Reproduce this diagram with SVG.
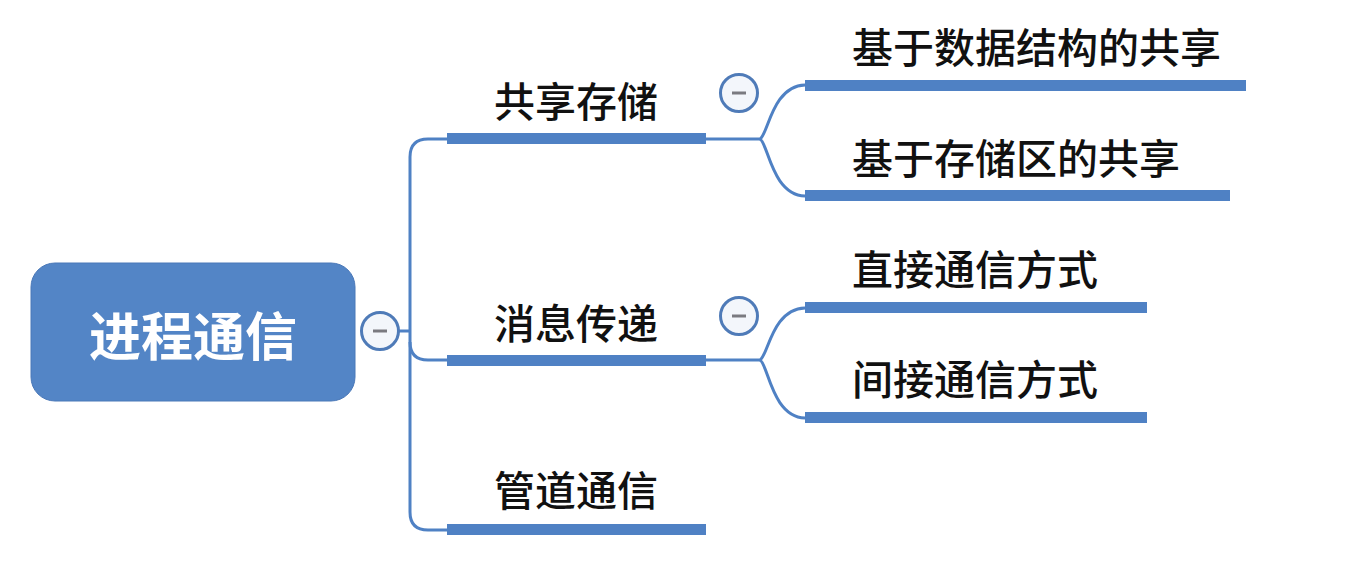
<svg xmlns="http://www.w3.org/2000/svg" width="1351" height="569" viewBox="0 0 1351 569">
<style>
.bar{fill:#4f81c4}
.ln{fill:none;stroke:#4f81c4;stroke-width:3}
.t{font-family:"Noto Sans CJK SC","Noto Sans",sans-serif;font-size:41px;font-weight:500;fill:#111;dominant-baseline:central}
.root{font-family:"Noto Sans CJK SC","Noto Sans",sans-serif;font-size:52px;font-weight:bold;fill:#fff;dominant-baseline:central;text-anchor:middle}
.cc{fill:#f3f6fb;stroke:#4f7bb8;stroke-width:3}
.mn{stroke:#7a7a80;stroke-width:3}
</style>
<rect width="1351" height="569" fill="#fff"/>
<g id="connectors">
<path class="ln" d="M398,331 H410"/>
<path class="ln" d="M447,139 H428 Q410,139 410,157 V512 Q410,530 428,530 H447"/>
<path class="ln" d="M410,342 Q410,360 428,360 H447"/>
<path class="ln" d="M706,139 H760 C768,135 772,86 805,85"/>
<path class="ln" d="M760,139 C768,143 772,195 805,196"/>
<path class="ln" d="M706,360 H760 C768,356 772,309 805,308"/>
<path class="ln" d="M760,360 C768,364 772,417 805,418"/>
</g>
<g id="root">
<rect x="31" y="263" width="324" height="138" rx="24" fill="#5385c6" stroke="#4a78b8" stroke-width="1"/>
<text class="root" x="193" y="333">进程通信</text>
</g>
<g id="toggle-root"><circle class="cc" cx="380" cy="331" r="18.5"/><line class="mn" x1="373" y1="331" x2="387" y2="331"/></g>
<g id="n-shared">
<rect class="bar" x="447" y="133" width="259" height="11"/>
<text class="t" x="494" y="99">共享存储</text>
</g>
<g id="toggle-shared"><circle class="cc" cx="739" cy="93" r="18.5"/><line class="mn" x1="732" y1="93" x2="746" y2="93"/></g>
<g id="n-ds">
<rect class="bar" x="805" y="80" width="441" height="11"/>
<text class="t" x="852" y="45">基于数据结构的共享</text>
</g>
<g id="n-area">
<rect class="bar" x="805" y="190" width="425" height="11"/>
<text class="t" x="852" y="156">基于存储区的共享</text>
</g>
<g id="n-msg">
<rect class="bar" x="447" y="355" width="259" height="11"/>
<text class="t" x="494" y="321">消息传递</text>
</g>
<g id="toggle-msg"><circle class="cc" cx="739" cy="316" r="18.5"/><line class="mn" x1="732" y1="316" x2="746" y2="316"/></g>
<g id="n-direct">
<rect class="bar" x="805" y="302" width="342" height="11"/>
<text class="t" x="852" y="267">直接通信方式</text>
</g>
<g id="n-indirect">
<rect class="bar" x="805" y="412" width="342" height="11"/>
<text class="t" x="852" y="377">间接通信方式</text>
</g>
<g id="n-pipe">
<rect class="bar" x="447" y="524" width="259" height="11"/>
<text class="t" x="494" y="488">管道通信</text>
</g>
</svg>
